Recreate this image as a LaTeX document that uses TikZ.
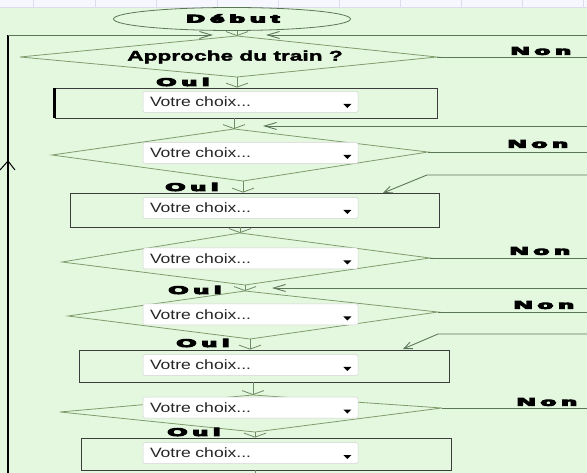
\documentclass[tikz,border=0pt]{standalone}
\usepackage{graphicx}
\usepackage{fontspec}
\setmainfont{Liberation Sans}
\newfontfamily\widefont[FakeBold=9]{Liberation Sans}
\newfontfamily\apfont[FakeStretch=1.62,FakeBold=2.5]{Liberation Sans}
\newfontfamily\combofont[FakeStretch=1.3]{Liberation Sans}
\usetikzlibrary{shapes.geometric,arrows.meta,calc}
\definecolor{bgc}{HTML}{E4F8E0}
\definecolor{gridc}{HTML}{DCDCEC}
\definecolor{dline}{HTML}{7F9C6C}
\definecolor{nline}{HTML}{5C7658}
\definecolor{aline}{HTML}{6E8A62}
\definecolor{rline}{HTML}{3C3C3C}
\definecolor{cbord}{HTML}{D4D4D4}
\newcommand{\ls}{\kern2.3pt}
\newcommand{\wl}[1]{\scalebox{2.3}[1]{#1}}
\newcommand{\combo}[2]{%
  \node[combo] (#1) at (250.5,#2) {Votre choix...};
  \fill[black] ($(#1.east)+(-15,2)$) -- ++(8,0) -- ++(-4,4) -- cycle;}
\begin{document}
\begin{tikzpicture}[x=1pt,y=-1pt,
  diam/.style={draw=dline,line width=0.8pt},
  boxnode/.style={draw=rline,line width=0.9pt,inner sep=0pt},
  combo/.style={draw=cbord,fill=white,rounded corners=1.5pt,line width=0.5pt,
    minimum height=21pt,text width=201pt,inner xsep=7pt,inner ysep=0pt,
    align=left,font=\combofont\fontsize{13.5}{15}\selectfont,text=black!85},
  lbl/.style={font=\widefont\bfseries\fontsize{11}{12}\selectfont,inner sep=0pt},
  nonline/.style={draw=nline,line width=0.9pt},
  dnarrow/.style={draw=aline,line width=0.8pt,-{Straight Barb[length=4pt,width=22pt,line width=0.8pt]}},
  lfarrow/.style={draw=nline,line width=0.9pt,-{Straight Barb[length=12pt,width=7pt,line width=0.9pt]}},
  diagarrow/.style={draw=nline,line width=0.9pt,-{Straight Barb[length=8pt,width=7pt,line width=0.9pt]}}
]
\useasboundingbox (0,0) rectangle (587,473);
\fill[bgc] (0,0) rectangle (587,473);
% spreadsheet strip
\fill[white!97!blue] (0,0) rectangle (587,7);
\draw[gridc,line width=0.8pt] (0,7) -- (587,7);
\foreach \gx in {33,95,156,217,278,339,400,461,522,583}
  \draw[gridc,line width=0.8pt] (\gx,0) -- (\gx,7);

% start
\node[draw=nline,line width=0.8pt,ellipse,minimum width=237pt,minimum height=23pt,inner sep=0pt] (deb) at (232,19) {};
\node[lbl] (debt) at (233,18.5) {\wl{D\ls é\ls b\ls u\ls t}};

% diamond 1
\coordinate (d1t) at (237,36); \coordinate (d1l) at (20,57);
\coordinate (d1b) at (237,77); \coordinate (d1r) at (437,57);
\draw[diam] (d1t) -- (d1r) -- (d1b) -- (d1l) -- cycle;
\node[font=\apfont\bfseries\fontsize{14}{16}\selectfont,inner sep=0pt] (q1) at (235,57) {Approche du train ?};

% box 1
\node[boxnode,minimum width=382pt,minimum height=30pt] (r1) at (246,103) {};
\draw[black,line width=2.6pt] (r1.north west) -- (r1.south west);
\combo{c1}{102}

% diamond 2
\coordinate (d2t) at (234,129); \coordinate (d2l) at (52,155);
\coordinate (d2b) at (243,181); \coordinate (d2r) at (428,152);
\draw[diam] (d2t) -- (d2r) -- (d2b) -- (d2l) -- cycle;
\combo{c2}{153}

% box 2
\node[boxnode,minimum width=369pt,minimum height=34pt] (r2) at (254.5,210) {};
\combo{c3}{208}

% diamond 3
\coordinate (d3t) at (240,233); \coordinate (d3l) at (62,262);
\coordinate (d3b) at (245,285); \coordinate (d3r) at (430,258);
\draw[diam] (d3t) -- (d3r) -- (d3b) -- (d3l) -- cycle;
\combo{c4}{258.5}

% diamond 4
\coordinate (d4t) at (245,291); \coordinate (d4l) at (68,316);
\coordinate (d4b) at (250,339); \coordinate (d4r) at (438,312);
\draw[diam] (d4t) -- (d4r) -- (d4b) -- (d4l) -- cycle;
\combo{c5}{314.5}

% box 3
\node[boxnode,minimum width=370pt,minimum height=32pt] (r3) at (264,366) {};
\combo{c6}{365}

% diamond 5
\coordinate (d5t) at (253,395); \coordinate (d5l) at (60,412);
\coordinate (d5b) at (255,432); \coordinate (d5r) at (442,408);
\draw[diam] (d5t) -- (d5r) -- (d5b) -- (d5l) -- cycle;
\combo{c7}{407.5}

% box 4
\node[boxnode,minimum width=370pt,minimum height=32pt] (r4) at (266,454) {};
\combo{c8}{453}

% Oui labels
\node[lbl] (o1) at (183,82) {\wl{O\ls u\ls i}};
\node[lbl] (o2) at (192,187) {\wl{O\ls u\ls i}};
\node[lbl] (o3) at (195,290) {\wl{O\ls u\ls i}};
\node[lbl] (o4) at (203,343) {\wl{O\ls u\ls i}};
\node[lbl] (o5) at (194,432) {\wl{O\ls u\ls i}};

% Non labels
\node[lbl] (n1) at (541,51) {\wl{N\ls o\ls n}};
\node[lbl] (n2) at (538,144) {\wl{N\ls o\ls n}};
\node[lbl] (n3) at (540,251) {\wl{N\ls o\ls n}};
\node[lbl] (n4) at (544,305) {\wl{N\ls o\ls n}};
\node[lbl] (n5) at (547,402) {\wl{N\ls o\ls n}};

% down arrows
\draw[dnarrow] (deb.south -| d1t) -- (d1t);
\draw[dnarrow] (d1b) -- (d1b |- r1.north);
\draw[dnarrow] (r1.south -| d2t) -- (d2t);
\draw[dnarrow] (d2b) -- (d2b |- r2.north);
\draw[dnarrow] (r2.south -| d3t) -- (d3t);
\draw[dnarrow] (d3b) -- (d4t);
\draw[dnarrow] (d4b) -- (d4b |- r3.north);
\draw[dnarrow] (r3.south -| d5t) -- (d5t);
\draw[dnarrow] (d5b) -- (d5b |- r4.north);
\coordinate (bot) at (255,473);
\draw[draw=aline,line width=0.8pt] (r4.south -| bot) -- (bot);

% Non exits
\coordinate (e1) at (587,57);  \draw[nonline] (d1r) -- (e1);
\coordinate (e2) at (587,152); \draw[nonline] (d2r) -- (e2);
\coordinate (e3) at (587,258); \draw[nonline] (d3r) -- (e3);
\coordinate (e4) at (587,312); \draw[nonline] (d4r) -- (e4);
\coordinate (e5) at (587,408); \draw[nonline] (d5r) -- (e5);

% returns from the right
\coordinate (g1) at (587,35);  \coordinate (t1) at (266,35);
\draw[lfarrow] (g1) -- (t1);
\coordinate (g2) at (587,126); \coordinate (t2) at (263,126);
\draw[lfarrow] (g2) -- (t2);
\coordinate (g3) at (587,175); \coordinate (k3) at (427,175); \coordinate (t3) at (383,193);
\draw[diagarrow] (g3) -- (k3) -- (t3);
\coordinate (g4) at (587,288); \coordinate (t4) at (272,288);
\draw[lfarrow] (g4) -- (t4);
\coordinate (g5) at (587,334); \coordinate (k5) at (438,334); \coordinate (t5) at (403,349);
\draw[diagarrow] (g5) -- (k5) -- (t5);

% loop back on the left
\coordinate (lb) at (8,473); \coordinate (lm) at (8,161);
\coordinate (lc) at (8,35); \coordinate (lt) at (213,35);
\draw[black,line width=2.6pt] (lb) -- (lc);
\draw[black,line width=1pt] (0,170) -- (lm) -- (15,170);
\draw[lfarrow] (lc) -- (lt);
\end{tikzpicture}
\end{document}
